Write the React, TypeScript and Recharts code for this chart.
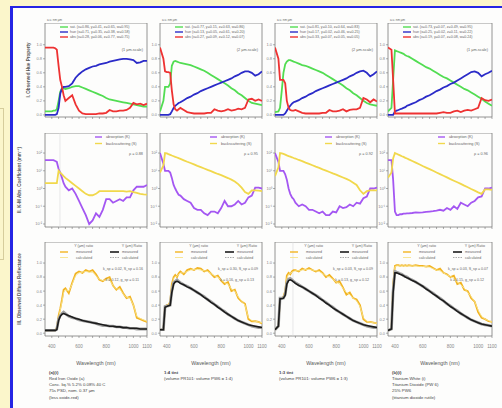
import React from "react";
import { LineChart, Line, XAxis, YAxis, ReferenceArea, ReferenceLine } from "recharts";

// wavelength samples (nm)
const WL = [350, 375, 387, 400, 412, 425, 437, 450, 462, 475, 487, 500, 525, 550, 575, 600, 625, 650, 675, 700, 725, 750, 775, 800, 825, 850, 875, 900, 925, 950, 975, 1000, 1025, 1050, 1075, 1100];
const X_TICKS = [400, 450, 500, 550, 600, 650, 700, 750, 800, 850, 900, 950, 1000, 1050, 1100];
const X_LABELS = [400, 600, 800, 1000, 1100];

// row I: observed hue property (green / blue / red)
const P1_SAT = [0.05, 0.05, 0.05, 0.05, 0.06, 0.06, 0.08, 0.2, 0.33, 0.38, 0.38, 0.37, 0.38, 0.4, 0.41, 0.41, 0.39, 0.37, 0.35, 0.33, 0.31, 0.29, 0.27, 0.24, 0.22, 0.21, 0.2, 0.19, 0.18, 0.17, 0.16, 0.15, 0.14, 0.13, 0.12, 0.12];
const P1_HUE = [0, 0, 0, 0, 0, 0, 0.01, 0.1, 0.3, 0.38, 0.4, 0.4, 0.41, 0.45, 0.53, 0.58, 0.62, 0.65, 0.67, 0.69, 0.7, 0.72, 0.73, 0.74, 0.76, 0.77, 0.78, 0.79, 0.8, 0.8, 0.79, 0.78, 0.74, 0.75, 0.77, 0.77];
const P1_ABS = [0.96, 0.96, 0.96, 0.96, 0.96, 0.95, 0.93, 0.7, 0.5, 0.4, 0.28, 0.2, 0.24, 0.28, 0.15, 0.06, 0.02, 0.01, 0.01, 0.01, 0.01, 0.02, 0.02, 0.03, 0.07, 0.05, 0.05, 0.06, 0.06, 0.07, 0.1, 0.17, 0.15, 0.16, 0.14, 0.16];
const P2_SAT = [0.05, 0.2, 0.4, 0.4, 0.4, 0.45, 0.7, 0.76, 0.77, 0.76, 0.75, 0.74, 0.73, 0.72, 0.71, 0.69, 0.67, 0.65, 0.63, 0.6, 0.57, 0.54, 0.51, 0.48, 0.45, 0.42, 0.38, 0.35, 0.31, 0.28, 0.24, 0.2, 0.17, 0.16, 0.15, 0.14];
const P2_HUE = [0, 0, 0, 0, 0, 0.01, 0.05, 0.1, 0.13, 0.15, 0.17, 0.18, 0.21, 0.24, 0.26, 0.29, 0.31, 0.34, 0.36, 0.38, 0.4, 0.42, 0.44, 0.46, 0.48, 0.5, 0.52, 0.55, 0.57, 0.6, 0.62, 0.62, 0.6, 0.56, 0.58, 0.62];
const P2_ABS = [0.96, 0.8, 0.62, 0.61, 0.61, 0.6, 0.35, 0.15, 0.08, 0.06, 0.08, 0.1, 0.07, 0.04, 0.03, 0.02, 0.02, 0.02, 0.02, 0.03, 0.03, 0.08, 0.06, 0.05, 0.06, 0.08, 0.06, 0.07, 0.09, 0.08, 0.1, 0.22, 0.23, 0.2, 0.22, 0.2];
const P3_SAT = [0.04, 0.05, 0.1, 0.35, 0.6, 0.72, 0.76, 0.78, 0.78, 0.77, 0.76, 0.75, 0.73, 0.71, 0.7, 0.68, 0.66, 0.64, 0.62, 0.6, 0.57, 0.54, 0.51, 0.48, 0.45, 0.42, 0.38, 0.35, 0.31, 0.28, 0.24, 0.2, 0.17, 0.15, 0.14, 0.13];
const P3_HUE = [0, 0, 0, 0, 0, 0.02, 0.06, 0.1, 0.13, 0.16, 0.18, 0.19, 0.21, 0.24, 0.26, 0.29, 0.31, 0.34, 0.36, 0.38, 0.4, 0.42, 0.44, 0.46, 0.48, 0.5, 0.52, 0.55, 0.57, 0.6, 0.62, 0.63, 0.6, 0.55, 0.58, 0.62];
const P3_ABS = [0.96, 0.8, 0.5, 0.5, 0.5, 0.45, 0.2, 0.1, 0.07, 0.06, 0.06, 0.07, 0.05, 0.03, 0.02, 0.02, 0.02, 0.02, 0.02, 0.03, 0.03, 0.07, 0.05, 0.05, 0.06, 0.08, 0.05, 0.07, 0.08, 0.08, 0.1, 0.24, 0.22, 0.18, 0.22, 0.19];
const P4_SAT = [0.05, 0.1, 0.5, 0.92, 0.91, 0.9, 0.89, 0.88, 0.87, 0.85, 0.84, 0.83, 0.8, 0.77, 0.74, 0.71, 0.68, 0.66, 0.63, 0.6, 0.57, 0.54, 0.52, 0.49, 0.46, 0.43, 0.4, 0.37, 0.35, 0.32, 0.29, 0.26, 0.23, 0.19, 0.16, 0.13];
const P4_HUE = [0, 0, 0, 0.05, 0.06, 0.07, 0.08, 0.09, 0.1, 0.11, 0.13, 0.14, 0.16, 0.18, 0.21, 0.23, 0.26, 0.28, 0.31, 0.34, 0.36, 0.39, 0.41, 0.44, 0.46, 0.49, 0.52, 0.55, 0.58, 0.61, 0.62, 0.6, 0.55, 0.58, 0.6, 0.63];
const P4_ABS = [0.96, 0.93, 0.5, 0.02, 0.02, 0.02, 0.02, 0.02, 0.02, 0.02, 0.02, 0.02, 0.02, 0.02, 0.02, 0.02, 0.02, 0.02, 0.02, 0.02, 0.03, 0.04, 0.03, 0.03, 0.05, 0.06, 0.04, 0.06, 0.07, 0.06, 0.08, 0.1, 0.24, 0.21, 0.2, 0.22];

// row II: K-M coefficients, log10 values
const P1_K = [1.6, 1.6, 1.6, 1.6, 1.6, 1.55, 1.5, 1.1, 0.9, 0.6, 0.3, 0.1, -0.1, 0, -0.3, -0.7, -1.1, -1.5, -2, -1.8, -1.4, -1.6, -1.2, -0.6, -0.6, -0.8, -0.7, -0.6, -0.7, -0.5, -0.5, -0.1, 0.1, 0.1, 0.1, 0.2];
const P1_S = [0.3, 0.3, 0.3, 0.3, 0.3, 0.3, 0.3, 1.0, 0.9, 0.8, 0.7, 0.6, 0.45, 0.3, 0.15, 0, -0.15, -0.3, -0.38, -0.38, -0.3, -0.15, -0.15, -0.15, -0.15, -0.15, -0.15, -0.15, -0.15, -0.17, -0.15, -0.2, -0.25, -0.3, -0.33, -0.35];
const P2_K = [2.0, 1.4, 1.0, 1.0, 1.0, 0.9, 0.6, 0.2, 0, -0.2, -0.35, -0.4, -0.6, -0.7, -0.8, -1.1, -1.2, -1.2, -1.4, -1.5, -1.3, -1.3, -1.4, -1.1, -0.7, -1.0, -1.0, -0.9, -0.7, -0.9, -0.8, -0.5, -0.4, 0.05, 0.05, 0];
const P2_S = [0.9, 1.3, 2.0, 1.98, 1.94, 1.9, 1.86, 1.82, 1.78, 1.75, 1.71, 1.67, 1.59, 1.51, 1.44, 1.36, 1.28, 1.21, 1.13, 1.05, 0.98, 0.9, 0.82, 0.75, 0.67, 0.59, 0.5, 0.4, 0.25, 0.05, -0.2, -0.3, -0.1, -0.1, -0.12, -0.15];
const P3_K = [2.0, 1.5, 1.0, 1.0, 1.0, 0.8, 0.5, 0, -0.3, -0.5, -0.6, -0.8, -1.0, -0.9, -1.0, -1.2, -1.2, -1.3, -1.4, -1.3, -1.5, -1.5, -1.3, -1.35, -1.0, -1.1, -1.05, -0.9, -1.0, -0.8, -0.85, -0.55, -0.45, 0, 0, 0.05];
const P3_S = [0.7, 1.2, 2.0, 1.98, 1.95, 1.91, 1.87, 1.83, 1.8, 1.76, 1.72, 1.69, 1.61, 1.54, 1.46, 1.39, 1.31, 1.23, 1.16, 1.08, 1.01, 0.93, 0.85, 0.78, 0.7, 0.62, 0.54, 0.45, 0.33, 0.2, -0.1, -0.3, -0.15, -0.1, -0.1, -0.1];
const P4_K = [1.6, 1.6, 0.5, -1.3, -1.5, -1.5, -1.45, -1.45, -1.42, -1.42, -1.4, -1.4, -1.38, -1.35, -1.36, -1.35, -1.32, -1.3, -1.28, -1.25, -1.2, -1.25, -1.1, -1.2, -1.0, -1.15, -0.8, -0.9, -1.0, -0.8, -0.7, -0.5, -0.45, 0, 0, 0.05];
const P4_S = [0.6, 0.9, 1.7, 2.0, 1.96, 1.91, 1.87, 1.82, 1.78, 1.73, 1.69, 1.64, 1.55, 1.46, 1.37, 1.27, 1.18, 1.09, 1.0, 0.9, 0.81, 0.72, 0.63, 0.53, 0.44, 0.35, 0.26, 0.16, 0.07, -0.03, -0.12, -0.22, -0.3, -0.05, -0.05, -0.08];

// row III: reflectance (yellow = masstone, black = tint; measured / calculated)
const P1_RY = [0.04, 0.04, 0.04, 0.04, 0.04, 0.04, 0.08, 0.25, 0.35, 0.48, 0.62, 0.64, 0.57, 0.72, 0.85, 0.88, 0.86, 0.9, 0.88, 0.9, 0.84, 0.76, 0.74, 0.78, 0.8, 0.68, 0.62, 0.66, 0.57, 0.5, 0.52, 0.4, 0.22, 0.2, 0.18, 0.16];
const P1_RYC = [0.04, 0.04, 0.04, 0.04, 0.04, 0.04, 0.07, 0.22, 0.33, 0.45, 0.58, 0.62, 0.6, 0.7, 0.82, 0.86, 0.87, 0.88, 0.87, 0.87, 0.82, 0.77, 0.75, 0.76, 0.76, 0.68, 0.63, 0.63, 0.56, 0.51, 0.5, 0.4, 0.24, 0.21, 0.19, 0.17];
const P1_RK = [0.04, 0.04, 0.04, 0.04, 0.04, 0.04, 0.06, 0.2, 0.25, 0.28, 0.3, 0.28, 0.24, 0.22, 0.21, 0.19, 0.18, 0.17, 0.16, 0.15, 0.14, 0.12, 0.11, 0.11, 0.1, 0.1, 0.09, 0.09, 0.08, 0.08, 0.07, 0.07, 0.06, 0.06, 0.06, 0.06];
const P1_RKC = [0.04, 0.04, 0.04, 0.04, 0.04, 0.04, 0.05, 0.18, 0.24, 0.27, 0.28, 0.27, 0.25, 0.23, 0.21, 0.2, 0.18, 0.17, 0.16, 0.15, 0.14, 0.13, 0.12, 0.11, 0.1, 0.1, 0.09, 0.09, 0.08, 0.08, 0.07, 0.07, 0.07, 0.06, 0.06, 0.06];
const P2_RY = [0.05, 0.05, 0.38, 0.4, 0.4, 0.45, 0.7, 0.8, 0.83, 0.8, 0.85, 0.88, 0.84, 0.9, 0.92, 0.9, 0.93, 0.92, 0.88, 0.9, 0.85, 0.8, 0.82, 0.75, 0.7, 0.73, 0.6, 0.62, 0.5, 0.45, 0.42, 0.2, 0.17, 0.17, 0.16, 0.14];
const P2_RYC = [0.05, 0.05, 0.36, 0.39, 0.4, 0.44, 0.66, 0.78, 0.81, 0.81, 0.84, 0.86, 0.86, 0.88, 0.9, 0.91, 0.91, 0.9, 0.89, 0.88, 0.85, 0.82, 0.8, 0.76, 0.72, 0.7, 0.63, 0.6, 0.52, 0.46, 0.4, 0.22, 0.18, 0.17, 0.16, 0.15];
const P2_RK = [0.05, 0.05, 0.38, 0.39, 0.39, 0.4, 0.6, 0.72, 0.74, 0.76, 0.74, 0.72, 0.69, 0.67, 0.64, 0.61, 0.58, 0.55, 0.52, 0.48, 0.45, 0.41, 0.38, 0.34, 0.31, 0.27, 0.24, 0.21, 0.18, 0.16, 0.14, 0.12, 0.1, 0.09, 0.08, 0.08];
const P2_RKC = [0.05, 0.05, 0.37, 0.38, 0.39, 0.4, 0.58, 0.7, 0.73, 0.74, 0.73, 0.71, 0.69, 0.66, 0.64, 0.61, 0.58, 0.55, 0.51, 0.48, 0.44, 0.41, 0.37, 0.34, 0.3, 0.27, 0.24, 0.21, 0.18, 0.16, 0.14, 0.12, 0.11, 0.1, 0.09, 0.08];
const P3_RY = [0.05, 0.1, 0.5, 0.5, 0.52, 0.6, 0.82, 0.86, 0.84, 0.88, 0.9, 0.9, 0.88, 0.92, 0.9, 0.93, 0.9, 0.88, 0.9, 0.86, 0.8, 0.83, 0.78, 0.72, 0.74, 0.65, 0.55, 0.58, 0.5, 0.48, 0.4, 0.2, 0.16, 0.16, 0.15, 0.14];
const P3_RYC = [0.05, 0.1, 0.48, 0.5, 0.52, 0.58, 0.78, 0.84, 0.85, 0.87, 0.88, 0.89, 0.89, 0.9, 0.91, 0.91, 0.9, 0.89, 0.88, 0.85, 0.82, 0.8, 0.77, 0.73, 0.7, 0.64, 0.58, 0.55, 0.5, 0.46, 0.38, 0.22, 0.17, 0.16, 0.15, 0.14];
const P3_RK = [0.05, 0.1, 0.5, 0.5, 0.5, 0.55, 0.72, 0.77, 0.78, 0.76, 0.74, 0.72, 0.69, 0.66, 0.63, 0.6, 0.57, 0.54, 0.51, 0.47, 0.44, 0.4, 0.37, 0.33, 0.3, 0.27, 0.24, 0.21, 0.18, 0.16, 0.14, 0.12, 0.1, 0.09, 0.08, 0.08];
const P3_RKC = [0.05, 0.1, 0.49, 0.49, 0.5, 0.54, 0.7, 0.75, 0.76, 0.75, 0.73, 0.71, 0.68, 0.66, 0.63, 0.6, 0.57, 0.54, 0.5, 0.47, 0.43, 0.4, 0.36, 0.33, 0.3, 0.27, 0.24, 0.21, 0.18, 0.16, 0.14, 0.12, 0.11, 0.1, 0.09, 0.08];
const P4_RY = [0.04, 0.06, 0.7, 0.96, 0.97, 0.97, 0.96, 0.97, 0.96, 0.97, 0.96, 0.97, 0.96, 0.97, 0.96, 0.96, 0.95, 0.96, 0.93, 0.9, 0.92, 0.86, 0.84, 0.8, 0.82, 0.7, 0.72, 0.62, 0.6, 0.5, 0.45, 0.3, 0.22, 0.2, 0.17, 0.16];
const P4_RYC = [0.04, 0.06, 0.66, 0.95, 0.96, 0.96, 0.96, 0.96, 0.96, 0.96, 0.96, 0.96, 0.96, 0.96, 0.95, 0.95, 0.95, 0.94, 0.92, 0.9, 0.89, 0.86, 0.83, 0.81, 0.78, 0.73, 0.69, 0.64, 0.58, 0.52, 0.45, 0.33, 0.24, 0.2, 0.18, 0.16];
const P4_RK = [0.04, 0.06, 0.6, 0.88, 0.87, 0.86, 0.85, 0.84, 0.82, 0.81, 0.8, 0.78, 0.76, 0.73, 0.7, 0.67, 0.64, 0.6, 0.57, 0.53, 0.5, 0.46, 0.42, 0.39, 0.35, 0.32, 0.28, 0.25, 0.22, 0.19, 0.17, 0.15, 0.13, 0.12, 0.11, 0.1];
const P4_RKC = [0.04, 0.06, 0.58, 0.86, 0.86, 0.85, 0.84, 0.83, 0.82, 0.8, 0.79, 0.78, 0.75, 0.73, 0.7, 0.67, 0.63, 0.6, 0.56, 0.53, 0.49, 0.46, 0.42, 0.38, 0.35, 0.31, 0.28, 0.25, 0.22, 0.19, 0.17, 0.15, 0.13, 0.12, 0.11, 0.1];

const ROW1_LEGEND = [
  ["sat. (x=0.86, y=0.41, z=0.65, w=0.95)", "hue (x=0.71, y=0.35, z=0.38, w=0.58)", "abs (x=0.28, y=0.06, z=0.77, w=0.75)"],
  ["sat. (x=0.77, y=0.15, z=0.63, w=0.86)", "hue (x=0.13, y=0.05, z=0.61, w=0.20)", "abs (x=0.27, y=0.09, z=0.12, w=0.07)"],
  ["sat. (x=0.81, y=0.10, z=0.64, w=0.83)", "hue (x=0.17, y=0.02, z=0.46, w=0.25)", "abs (x=0.33, y=0.07, z=0.05, w=0.05)"],
  ["sat. (x=0.73, y=0.07, z=0.49, w=0.95)", "hue (x=0.25, y=0.02, z=0.11, w=0.22)", "abs (x=0.19, y=0.07, z=0.08, w=0.24)"],
];
const ROW1_NOTE = ["(1 µm-scale)", "(2 µm-scale)", "(2 µm-scale)", "(1 µm-scale)"];
const ROW2_NOTE = ["ρ = 0.88", "ρ = 0.95", "ρ = 0.92", "ρ = 0.96"];
const ROW3_NOTE = [
  ["k_sp = 0.02, S_sp = 0.16", "k = 0.12, g_sp = 0.11"],
  ["k_sp = 0.30, S_sp = 0.09", "k = 0.16, g_sp = 0.13"],
  ["k_sp = 0.03, S_sp = 0.09", "k = 0.13, g_sp = 0.12"],
  ["k_sp = 0.03, S_sp = 0.07", "k = 0.15, g_sp = 0.12"],
];
const CAPTIONS = [
  ["(a)(i)", "Red Iron Oxide (a)", "Conc. liq.% 5.2% 0.08% 40 C", "75s PSD, nom. 0.37 µm", "(less oxide-red)"],
  ["1:4 tint", "(volume PR101: volume PW6 = 1:4)"],
  ["1:3 tint", "(volume PR101: volume PW6 = 1:3)"],
  ["(b)(i)", "Titanium White (i)", "Titanium Dioxide (PW 6)", "25% PW6", "(titanium dioxide rutile)"],
];
const ROW_TITLES = ["I. Observed Hue Property", "II. K-M Abs. Coefficient (mm⁻¹)", "III. Observed Diffuse Reflectance"];

const ROW1 = [[P1_SAT, P1_HUE, P1_ABS], [P2_SAT, P2_HUE, P2_ABS], [P3_SAT, P3_HUE, P3_ABS], [P4_SAT, P4_HUE, P4_ABS]];
const ROW2 = [[P1_K, P1_S], [P2_K, P2_S], [P3_K, P3_S], [P4_K, P4_S]];
const ROW3 = [[P1_RY, P1_RYC, P1_RK, P1_RKC], [P2_RY, P2_RYC, P2_RK, P2_RKC], [P3_RY, P3_RYC, P3_RK, P3_RKC], [P4_RY, P4_RYC, P4_RK, P4_RKC]];

const GREEN = "#52dd52";
const BLUE = "#2b2bc8";
const RED = "#ee3232";
const PURPLE = "#a457f2";
const PALE = "#f1d84c";
const ORANGE = "#f2b322";
const YCALC = "#f7e38a";
const BLACK = "#1c1c1c";
const GREY = "#a0a0a0";

const ROW_TOP = [23, 133, 242];
const BOX_H = 94;
const COL_LEFT = [45, 160, 275, 388];
const COL_W = [102, 102, 102, 104];
const FONT = "'Liberation Sans', Arial, sans-serif";
const PAD_L = 14;
const PAD_R = 8;

const SUP: Record<string, string> = { "-": "⁻", "0": "⁰", "1": "¹", "2": "²" };
const logFmt = (v: number) => "10" + String(v).split("").map((c) => SUP[c] ?? c).join("");
const linFmt = (v: number) => v.toFixed(1);

type S = { key: string; color: string; width: number };

function table(cols: number[][]) {
  return WL.map((w, i) => {
    const r: Record<string, number> = { w };
    cols.forEach((c, j) => (r["s" + j] = c[i]));
    return r;
  });
}

function Panel(props: {
  left: number; top: number; width: number; cols: number[][]; series: S[];
  domain: [number, number]; yTicks: number[]; fmt: (v: number) => string; xLabels: boolean; vline?: number;
}) {
  const { left, top, width, cols, series, domain, yTicks, fmt, xLabels, vline } = props;
  return (
    <div style={{ position: "absolute", left: left - PAD_L, top }}>
      <LineChart width={width + PAD_L + PAD_R} height={BOX_H + 18} data={table(cols)} margin={{ top: 0, right: PAD_R, bottom: 0, left: 0 }}>
        <XAxis dataKey="w" type="number" domain={[350, 1100]} ticks={X_TICKS} interval={0} allowDataOverflow height={18}
          axisLine={false} tickSize={2} tickLine={{ stroke: "#777", strokeWidth: 0.6 }} tickMargin={7}
          tick={{ fontSize: 4.5, fill: "#888", fontFamily: FONT }}
          tickFormatter={(v: number) => (xLabels && X_LABELS.includes(v) ? String(v) : "")} />
        <YAxis type="number" domain={domain} ticks={yTicks} interval={0} allowDataOverflow width={PAD_L}
          axisLine={false} tickSize={2} tickLine={{ stroke: "#777", strokeWidth: 0.6 }} tickMargin={1}
          tick={{ fontSize: 4, fill: "#888", fontFamily: FONT }} tickFormatter={fmt} />
        <ReferenceArea x1={350} x2={1100} y1={domain[0]} y2={domain[1]} fill="none" stroke="#7a7a7a" strokeWidth={0.8} ifOverflow="visible" />
        {vline !== undefined && <ReferenceLine x={vline} stroke="#dcdcdc" strokeWidth={0.6} />}
        {series.map((s, j) => (
          <Line key={s.key} dataKey={"s" + j} type="linear" stroke={s.color} strokeWidth={s.width} dot={false} isAnimationActive={false} />
        ))}
      </LineChart>
    </div>
  );
}

const R1S: S[] = [{ key: "sat", color: GREEN, width: 1.8 }, { key: "hue", color: BLUE, width: 1.8 }, { key: "abs", color: RED, width: 1.8 }];
const R2S: S[] = [{ key: "k", color: PURPLE, width: 1.8 }, { key: "s", color: PALE, width: 1.8 }];
const R3S: S[] = [
  { key: "ym", color: ORANGE, width: 1.8 }, { key: "yc", color: YCALC, width: 0.9 },
  { key: "kc", color: GREY, width: 2.8 }, { key: "km", color: BLACK, width: 1.6 },
];

function Overlay() {
  const t = { fontFamily: FONT, fill: "#666" } as const;
  return (
    <svg width={502} height={408} style={{ position: "absolute", left: 0, top: 0 }}>
      {ROW_TITLES.map((s, r) => {
        const x = r === 0 ? 30 : 21;
        const y = ROW_TOP[r] + BOX_H / 2;
        return (
          <text key={s} x={x} y={y} transform={`rotate(-90 ${x} ${y})`} textAnchor="middle" fontSize={4.6} fontWeight="bold" {...t} fill="#555">{s}</text>
        );
      })}
      {COL_LEFT.map((L, c) => {
        const W = COL_W[c];
        return (
          <g key={c}>
            <text x={L + 2} y={21} fontSize={3} {...t}>a.u.   nm   µm</text>
            {[GREEN, BLUE, RED].map((col, i) => (
              <g key={i}>
                <line x1={L + 15} x2={L + 23} y1={27 + i * 5} y2={27 + i * 5} stroke={col} strokeWidth={1.4} />
                <text x={L + 25} y={28.3 + i * 5} fontSize={3.6} {...t}>{ROW1_LEGEND[c][i]}</text>
              </g>
            ))}
            <text x={L + W - 4} y={51} fontSize={3.8} textAnchor="end" {...t}>{ROW1_NOTE[c]}</text>

            {[PURPLE, PALE].map((col, i) => (
              <g key={i}>
                <line x1={L + 50} x2={L + 57} y1={137 + i * 6.5} y2={137 + i * 6.5} stroke={col} strokeWidth={1.4} />
                <text x={L + 61} y={138.3 + i * 6.5} fontSize={3.8} {...t}>{i === 0 ? "absorption (K)" : "backscattering (S)"}</text>
              </g>
            ))}
            <text x={L + W - 4} y={155} fontSize={3.8} textAnchor="end" {...t}>{ROW2_NOTE[c]}</text>

            <text x={L + 48} y={247} fontSize={3.6} textAnchor="end" {...t}>Y (µm) ratio</text>
            <text x={L + 97} y={247} fontSize={3.6} textAnchor="end" {...t}>Y (µm) Ratio</text>
            <line x1={L + 15} x2={L + 23} y1={252} y2={252} stroke={ORANGE} strokeWidth={1.4} />
            <line x1={L + 15} x2={L + 23} y1={257.5} y2={257.5} stroke={YCALC} strokeWidth={0.9} />
            <text x={L + 31} y={253.3} fontSize={3.6} {...t}>measured</text>
            <text x={L + 31} y={258.8} fontSize={3.6} {...t}>calculated</text>
            <line x1={L + 65} x2={L + 74} y1={252} y2={252} stroke={BLACK} strokeWidth={1.6} />
            <line x1={L + 65} x2={L + 74} y1={257.5} y2={257.5} stroke={GREY} strokeWidth={0.9} strokeDasharray="1.5 1" />
            <text x={L + 77} y={253.3} fontSize={3.6} {...t}>measured</text>
            <text x={L + 77} y={258.8} fontSize={3.6} {...t}>calculated</text>
            <text x={L + W - 4} y={270} fontSize={3.6} textAnchor="end" {...t}>{ROW3_NOTE[c][0]}</text>
            <text x={L + W - 8} y={281} fontSize={3.6} textAnchor="end" {...t}>{ROW3_NOTE[c][1]}</text>

            <text x={L + W / 2} y={364.5} fontSize={5.2} textAnchor="middle" {...t} fill="#555">Wavelength (nm)</text>
            {CAPTIONS[c].map((line, i) => (
              <text key={i} x={L + 4} y={373.5 + i * 6.3} fontSize={4.3} fontWeight={i === 0 ? "bold" : "normal"} {...t} fill="#444">{line}</text>
            ))}
          </g>
        );
      })}
    </svg>
  );
}

export default function App() {
  return (
    <div style={{ position: "fixed", left: 0, top: 0, width: 502, height: 408, overflow: "hidden", background: "#fbf6cb", fontFamily: FONT }}>
      <div style={{ position: "absolute", left: 3, top: 108, width: 1, height: 152, background: "#d6cd9c" }} />
      <div style={{ position: "absolute", left: 0, top: 108, width: 4, height: 1, background: "#d6cd9c" }} />
      <div style={{ position: "absolute", left: 0, top: 259, width: 4, height: 1, background: "#d6cd9c" }} />
      <div style={{ position: "absolute", left: 10, top: 6, width: 500, height: 410, background: "#fdfdfc", borderLeft: "3px solid #2525e4", borderTop: "2px solid #2525e4", boxSizing: "border-box" }} />
      {COL_LEFT.map((L, c) => (
        <React.Fragment key={c}>
          <Panel left={L} top={ROW_TOP[0]} width={COL_W[c]} cols={ROW1[c]} series={R1S} domain={[-0.03, 1.31]} yTicks={[0, 0.2, 0.4, 0.6, 0.8, 1]} fmt={linFmt} xLabels={false} />
          <Panel left={L} top={ROW_TOP[1]} width={COL_W[c]} cols={ROW2[c]} series={R2S} domain={[-2.17, 3.13]} yTicks={[-2, -1, 0, 1, 2]} fmt={logFmt} xLabels={false} vline={c === 0 ? 460 : undefined} />
          <Panel left={L} top={ROW_TOP[2]} width={COL_W[c]} cols={ROW3[c]} series={R3S} domain={[-0.04, 1.3]} yTicks={[0, 0.2, 0.4, 0.6, 0.8, 1]} fmt={linFmt} xLabels={true} vline={c === 2 ? 482 : undefined} />
        </React.Fragment>
      ))}
      <Overlay />
    </div>
  );
}
